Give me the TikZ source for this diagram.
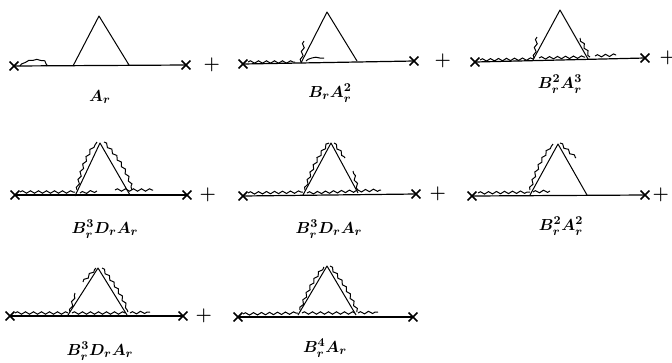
\documentclass[tikz,border=0pt]{standalone}
\usepackage{amsmath,amssymb}
\usepackage{tikz}
\usetikzlibrary{shapes.misc, positioning, decorations.pathmorphing}

\begin{document}
\begin{tikzpicture}[
    x=0.75pt, y=-0.75pt,
    xmark/.style={cross out, draw, line width=1.1pt, minimum size=5.5pt, inner sep=0pt},
    plusop/.style={font=\fontsize{14}{16}\selectfont\bfseries, inner sep=0pt},
    lab/.style={font=\fontsize{13}{15}\selectfont\boldmath, inner sep=0pt},
    prop/.style={line width=0.9pt},
    tri/.style={line width=0.75pt, line join=round},
    wig/.style={line width=0.75pt, decorate, decoration={snake, amplitude=0.9pt, segment length=6pt}},
    hump/.style={line width=0.75pt, decorate, decoration={snake, amplitude=0.3pt, segment length=6pt}},
]
\useasboundingbox (0,0) rectangle (672,362);

% top row
\node[xmark] (xl1) at (14,66) {};
\node[xmark] (xr1) at (186,65) {};
\coordinate (bl1) at (73,66);
\coordinate (br1) at (129,65);
\coordinate (ap1) at (99,16);
\draw[prop] (xl1.center) -- (xr1.center);
\draw[tri] (bl1) -- (ap1) -- (br1);
\draw[hump] ([shift={(6,0)}]xl1.center) .. controls ([shift={(12,-6)}]xl1.center) and ([shift={(30,-7)}]xl1.center) .. ([shift={(33,0)}]xl1.center);
\node[plusop, right=9.75pt of xr1] (p1) {+};
\node[lab] (n1) at (100,97) {$A_r$};

\node[xmark] (xl2) at (243,64) {};
\node[xmark] (xr2) at (414,61) {};
\coordinate (bl2) at (301,63);
\coordinate (br2) at (357,61);
\coordinate (ap2) at (327,12);
\draw[prop] (xl2.center) -- (xr2.center);
\draw[tri] (bl2) -- (ap2) -- (br2);
\draw[wig] ([shift={(5,-2)}]xl2.center) -- ([shift={(-6,-1)}]bl2);
\draw[wig] ([shift={(0,-1)}]bl2) -- ([shift={(3,-22)}]bl2);
\draw[hump] ([shift={(5,-2)}]bl2) -- ([shift={(10,-5)}]bl2) -- ([shift={(-33,-3)}]br2);
\node[plusop, right=12pt of xr2] (p2) {+};
\node[lab] (n2) at (330,93) {$B_rA_r^2$};

\node[xmark] (xl3) at (475,62) {};
\node[xmark] (xr3) at (645,58) {};
\coordinate (bl3) at (533,60);
\coordinate (br3) at (588,59);
\coordinate (ap3) at (560,10);
\draw[prop] (xl3.center) -- (xr3.center);
\draw[tri] (bl3) -- (ap3) -- (br3);
\draw[wig] ([shift={(5,-2)}]xl3.center) -- ([shift={(0,-1)}]bl3);
\draw[wig] ([shift={(1,-2)}]bl3) -- ([shift={(4,-23)}]bl3);
\draw[wig] ([shift={(6,-2)}]bl3) -- ([shift={(-3,-2)}]br3);
\draw[wig] ([shift={(2,-2)}]br3) -- ([shift={(-8,-21)}]br3);
\draw[wig] ([shift={(7,-3)}]br3) -- ([shift={(28,-4)}]br3);
\node[plusop, right=7.5pt of xr3] (p3) {+};
\node[lab] (n3) at (560,84) {$B_r^2A_r^3$};

% middle row
\node[xmark] (xl4) at (15,195) {};
\node[xmark] (xr4) at (187,195) {};
\coordinate (bl4) at (75,196);
\coordinate (br4) at (130,195);
\coordinate (ap4) at (100,143);
\draw[prop] (xl4.center) -- (xr4.center);
\draw[tri] (bl4) -- (ap4) -- (br4);
\draw[wig] ([shift={(5,-3)}]xl4.center) -- ([shift={(0,-4)}]bl4);
\draw[wig] ([shift={(5,-3)}]bl4) -- ([shift={(22,-5)}]bl4);
\draw[wig] ([shift={(-15,-5)}]br4) -- ([shift={(23,-5)}]br4);
\draw[wig] ([shift={(2,-6)}]bl4) to[bend left=12] ([shift={(-3,-1)}]ap4);
\draw[wig] ([shift={(4,-1)}]ap4) to[bend left=12] ([shift={(2,-5)}]br4);
\node[plusop, right=6pt of xr4] (p4) {+};
\node[lab] (n4) at (105,229) {$B_r^3D_rA_r$};

\node[xmark] (xl5) at (243,196) {};
\node[xmark] (xr5) at (416,194) {};
\coordinate (bl5) at (303,195);
\coordinate (br5) at (358,193);
\coordinate (ap5) at (331,143);
\draw[prop] (xl5.center) -- (xr5.center);
\draw[tri] (bl5) -- (ap5) -- (br5);
\draw[wig] ([shift={(5,-3)}]xl5.center) -- ([shift={(0,-3)}]bl5);
\draw[wig] ([shift={(4,-2)}]bl5) -- ([shift={(23,-3)}]br5);
\draw[wig] ([shift={(2,-5)}]bl5) to[bend left=10] ([shift={(-2,0)}]ap5);
\draw[wig] ([shift={(3,0)}]ap5) -- ([shift={(14,15)}]ap5);
\draw[wig] ([shift={(0,-3)}]br5) -- ([shift={(-5,-22)}]br5);
\node[plusop, right=6.75pt of xr5] (p5) {+};
\node[lab] (n5) at (329,229) {$B_r^3D_rA_r$};

\node[xmark] (xl6) at (472,196) {};
\node[xmark] (xr6) at (645,195) {};
\coordinate (bl6) at (530,195);
\coordinate (br6) at (587,195);
\coordinate (ap6) at (558,144);
\draw[prop] (xl6.center) -- (xr6.center);
\draw[tri] (bl6) -- (ap6) -- (br6);
\draw[wig] ([shift={(6,-3)}]xl6.center) -- ([shift={(0,-3)}]bl6);
\draw[wig] ([shift={(3,-3)}]bl6) -- ([shift={(20,-4)}]bl6);
\draw[wig] ([shift={(0,-5)}]bl6) to[bend left=10] ([shift={(-5,0)}]ap6);
\draw[wig] ([shift={(2,-1)}]ap6) -- ([shift={(18,14)}]ap6);
\node[plusop, right=2.25pt of xr6] (p6) {+};
\node[lab] (n6) at (561,226) {$B_r^2A_r^2$};

% bottom row
\node[xmark] (xl7) at (10,316) {};
\node[xmark] (xr7) at (183,316) {};
\coordinate (bl7) at (68,315);
\coordinate (br7) at (127,315);
\coordinate (ap7) at (98,268);
\draw[prop] (xl7.center) -- (xr7.center);
\draw[tri] (bl7) -- (ap7) -- (br7);
\draw[wig] ([shift={(5,-3)}]xl7.center) -- ([shift={(0,-2)}]bl7);
\draw[wig] ([shift={(4,-2)}]bl7) -- ([shift={(-2,-2)}]br7);
\draw[wig] ([shift={(3,-2)}]br7) -- ([shift={(23,-3)}]br7);
\draw[wig] ([shift={(2,-3)}]bl7) -- ([shift={(7,-22)}]bl7);
\draw[wig] ([shift={(-15,14)}]ap7) -- ([shift={(-2,0)}]ap7);
\draw[wig] ([shift={(4,0)}]ap7) to[bend left=8] ([shift={(1,-3)}]br7);
\node[plusop, right=6pt of xr7] (p7) {+};
\node[lab] (n7) at (100,351) {$B_r^3D_rA_r$};

\node[xmark] (xl8) at (238,317) {};
\node[xmark] (xr8) at (413,317) {};
\coordinate (bl8) at (298,315);
\coordinate (br8) at (356,315);
\coordinate (ap8) at (327,266);
\draw[prop] (xl8.center) -- (xr8.center);
\draw[tri] (bl8) -- (ap8) -- (br8);
\draw[wig] ([shift={(5,-3)}]xl8.center) -- ([shift={(0,-2)}]bl8);
\draw[wig] ([shift={(4,-2)}]bl8) -- ([shift={(-1,-2)}]br8);
\draw[wig] ([shift={(2,-2)}]br8) -- ([shift={(22,-3)}]br8);
\draw[wig] ([shift={(2,-5)}]bl8) to[bend left=8] ([shift={(-3,1)}]ap8);
\draw[wig] ([shift={(3,0)}]ap8) to[bend left=8] ([shift={(1,-3)}]br8);
\node[lab] (n8) at (325,348) {$B_r^4A_r$};
\end{tikzpicture}
\end{document}
